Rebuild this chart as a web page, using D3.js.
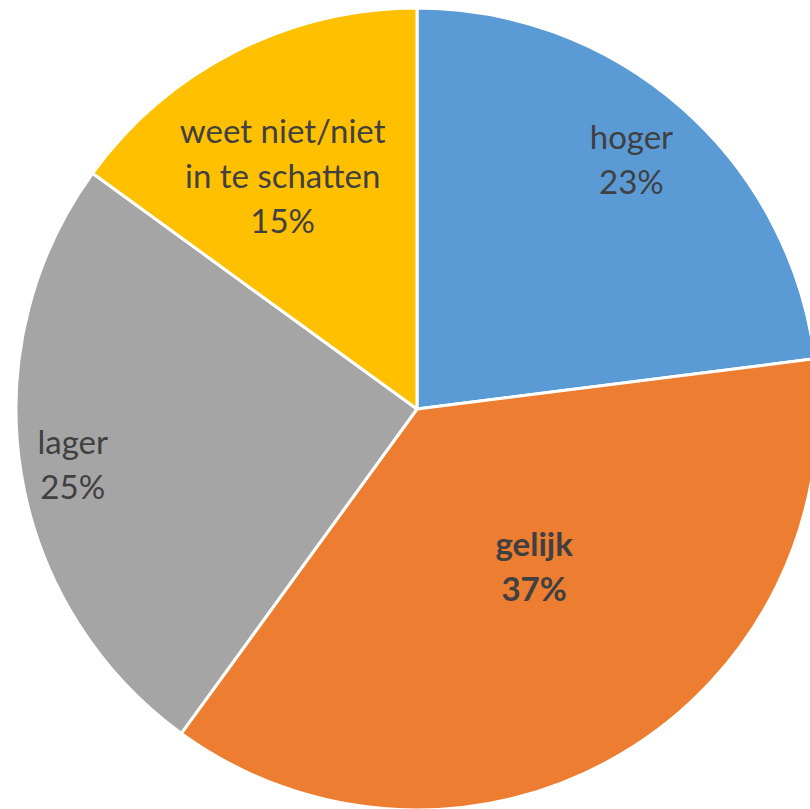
<!DOCTYPE html>
<html><head><meta charset="utf-8">
<script src="https://cdn.jsdelivr.net/npm/d3@7"></script>
<style>html,body{margin:0;padding:0;background:#fff;overflow:hidden}</style>
</head><body>
<svg id="c" width="810" height="809"></svg>
<script>
const categories = ["hoger", "gelijk", "lager", "weet niet/niet in te schatten"];
const labelLines = [["hoger"], ["gelijk"], ["lager"], ["weet niet/niet", "in te schatten"]];
const values = [23, 37, 25, 15];
const colors = ["#5B9BD5", "#ED7D31", "#A5A5A5", "#FFC000"];

const svg = d3.select("#c");
const cx = 417, cy = 409, R = 401;
const g = svg.append("g").attr("transform", `translate(${cx},${cy})`);

const pie = d3.pie().sort(null).value(d => d.v);
const data = pie(values.map((v, i) => ({v, i})));
const arc = d3.arc().innerRadius(0).outerRadius(R);

g.selectAll("path").data(data).join("path")
  .attr("d", arc)
  .attr("fill", d => colors[d.data.i])
  .attr("stroke", "#fff").attr("stroke-width", 3).attr("stroke-linejoin", "round");

// label placement (radius fraction, angle shift in degrees) mimicking Excel best fit
const place = [{r: 0.82, da: -0.7}, {r: 0.49, da: -6}, {r: 0.87, da: -0.3}, {r: 0.67, da: -3.0}];
const fs = 33, lh = 45;
data.forEach((d, k) => {
  const p = place[k];
  const a = (d.startAngle + d.endAngle) / 2 + p.da * Math.PI / 180;
  const x = Math.sin(a) * R * p.r, y = -Math.cos(a) * R * p.r;
  const lines = labelLines[k].concat([values[k] + "%"]);
  const t = g.append("text")
    .attr("text-anchor", "middle")
    .attr("font-family", "Lato, 'Open Sans', sans-serif")
    .attr("font-size", fs)
    .attr("font-weight", k === 1 ? "bold" : "normal")
    .attr("fill", "#404040");
  const y0 = y - (lines.length - 1) * lh / 2;
  lines.forEach((s, j) => {
    t.append("tspan").attr("x", x).attr("y", y0 + j * lh).attr("dy", "0.35em").text(s);
  });
});
</script>
</body></html>
